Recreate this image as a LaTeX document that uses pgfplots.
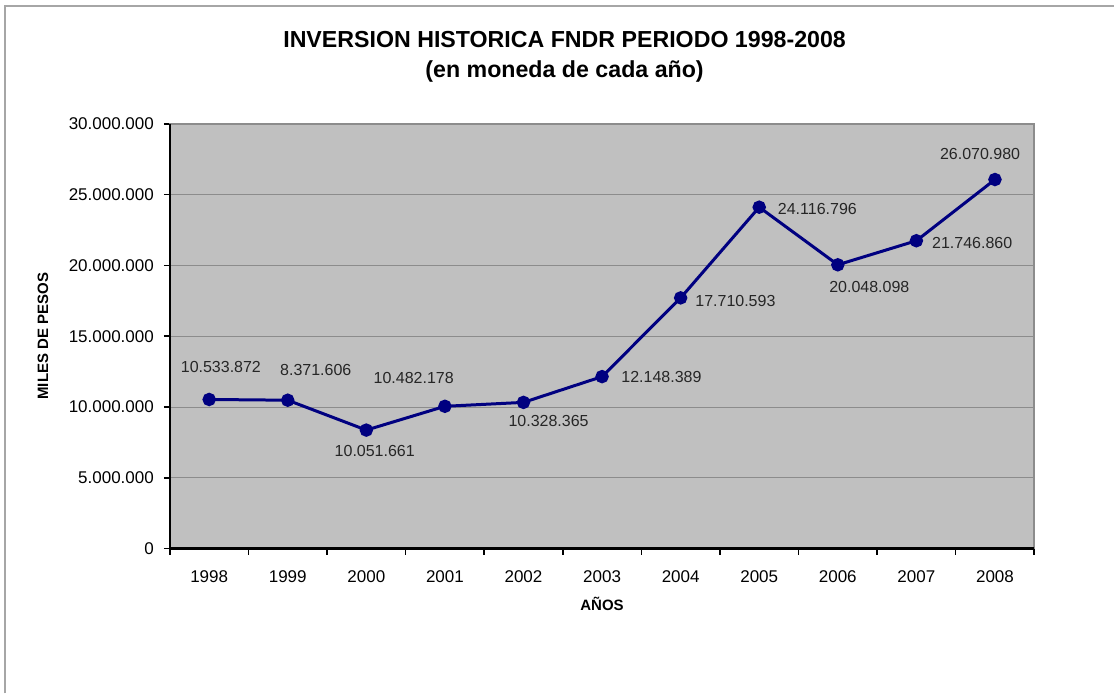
\documentclass[border=0pt]{standalone}
\usepackage{pgfplots}
\pgfplotsset{compat=1.18}
\usepackage{fontspec}
\setmainfont{Liberation Sans}
\definecolor{plotgray}{HTML}{C0C0C0}
\definecolor{gridgray}{HTML}{8C8C8C}
\definecolor{navyline}{HTML}{000080}
\definecolor{framegray}{HTML}{A6A6A6}
\begin{document}
\begin{tikzpicture}
  % page = 1115 x 694 px at 0.5pt per px
  \path (0,0) rectangle (557.5pt,347pt);
  \draw[framegray, line width=0.8pt] (2.5pt,0) -- (2.5pt,344pt) -- (557.5pt,344pt);
  \node[font=\bfseries\fontsize{11.6}{13.5}\selectfont, align=center] at (282.5pt,318.5pt)
    {INVERSION HISTORICA FNDR PERIODO 1998-2008\\[1.5pt](en moneda de cada año)};
  \begin{axis}[
      at={(85pt,72.5pt)}, anchor=south west,
      scale only axis,
      width=432.5pt, height=212.5pt,
      xmin=-0.5, xmax=10.5,
      ymin=0, ymax=30000000,
      xtick={0,...,10},
      xticklabels={1998,1999,2000,2001,2002,2003,2004,2005,2006,2007,2008},
      minor xtick={-0.5,0.5,...,10.5},
      ytick={0,5000000,...,30000000},
      scaled y ticks=false,
      yticklabel style={xshift=-1.5pt, /pgf/number format/.cd, fixed, precision=0, 1000 sep={.}},
      /pgf/number format/assume math mode=true,
      tick label style={font=\fontsize{8.5}{10}\selectfont},
      xticklabel style={yshift=-4.5pt},
      tick pos=left,
      tick align=outside,
      major tick length=3pt,
      minor tick length=3pt,
      major x tick style={draw=none},
      every tick/.style={black, line width=0.8pt},
      minor x tick style={black, line width=0.8pt},
      ymajorgrids,
      grid style={gridgray, line width=0.5pt},
      axis background/.style={fill=plotgray},
      axis line style={gridgray, line width=0.8pt},
      xlabel={AÑOS}, ylabel={MILES DE PESOS},
      label style={font=\bfseries\fontsize{7.5}{9}\selectfont},
      xlabel style={at={(axis description cs:0.5,0)}, anchor=center, yshift=-27.5pt},
      ylabel style={at={(axis description cs:0,0.5)}, anchor=center, yshift=63.5pt},
      clip=false,
    ]
    \addplot[navyline, line width=1.5pt, mark=*, mark size=2.6pt,
             mark options={fill=navyline, draw=navyline}] coordinates {
      (0,10533872) (1,10482178) (2,8371606) (3,10051661) (4,10328365)
      (5,12148389) (6,17710593) (7,24116796) (8,20048098) (9,21746860) (10,26070980)};
    \draw[black, line width=1.1pt] (rel axis cs:0,1) -- (rel axis cs:0,0) -- (rel axis cs:1,0);
    \begin{scope}[every node/.style={font=\fontsize{8}{9.6}\selectfont, text=black!85}]
      \node at (axis cs:0.149,12850000) {10.533.872};
      \node at (axis cs:1.357,12640000) {8.371.606};
      \node at (axis cs:2.603,12070000) {10.482.178};
      \node at (axis cs:2.107,6920000) {10.051.661};
      \node at (axis cs:4.319,9040000) {10.328.365};
      \node at (axis cs:5.756,12140000) {12.148.389};
      \node at (axis cs:6.697,17510000) {17.710.593};
      \node at (axis cs:7.740,24000000) {24.116.796};
      \node at (axis cs:8.401,18490000) {20.048.098};
      \node at (axis cs:9.710,21600000) {21.746.860};
      \node at (axis cs:9.810,27880000) {26.070.980};
    \end{scope}
  \end{axis}
\end{tikzpicture}
\end{document}
